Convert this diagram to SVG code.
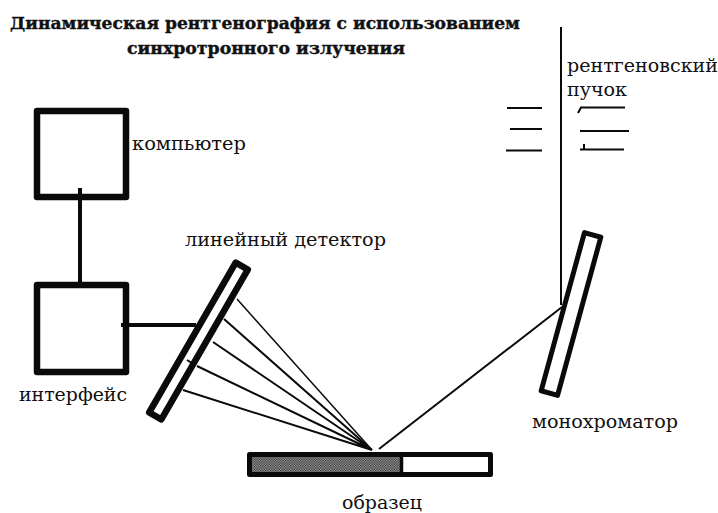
<svg xmlns="http://www.w3.org/2000/svg" width="718" height="513" viewBox="0 0 718 513">
<defs>
<pattern id="dots" width="2.500" height="2.500" patternUnits="userSpaceOnUse"><rect width="2.500" height="2.500" fill="#a8a8a8"/><rect width="1.250" height="1.250" fill="#2a2a2a"/><rect x="1.250" y="1.250" width="1.250" height="1.250" fill="#2a2a2a"/></pattern>
</defs>
<style>
text{font-family:"DejaVu Serif","Liberation Serif",serif;fill:#111;font-size:18px}
.t{font-weight:bold;font-size:17.500px;font-family:"DejaVu Serif",serif;stroke:#111;stroke-width:.4}
.box{fill:#fff;stroke:#0a0a0a;stroke-width:6.500;stroke-linejoin:round}
.c{stroke:#0a0a0a;fill:none}
</style>
<rect width="718" height="513" fill="#fff"/>
<text class="t" x="10" y="29" textLength="510" lengthAdjust="spacingAndGlyphs">Динамическая рентгенография с использованием</text>
<text class="t" x="127" y="54" textLength="278" lengthAdjust="spacingAndGlyphs">синхротронного излучения</text>
<g id="computer"><rect class="box" x="37" y="111" width="89" height="86"/><text x="132" y="150" textLength="114" lengthAdjust="spacingAndGlyphs">компьютер</text></g>
<g id="interface"><rect class="box" x="37" y="285" width="89" height="87"/><text x="19" y="401" textLength="108" lengthAdjust="spacingAndGlyphs">интерфейс</text></g>
<g id="detector"><rect x="-7" y="-86.500" width="14" height="173" transform="translate(198.500 341) rotate(30)" fill="#fff" stroke="#0a0a0a" stroke-width="6.500" stroke-linejoin="round"/><text x="185" y="246" textLength="201" lengthAdjust="spacingAndGlyphs">линейный детектор</text></g>
<g id="monochromator"><rect x="-8.500" y="-82" width="17" height="164" transform="translate(571 314) rotate(15.300)" fill="#fff" stroke="#0a0a0a" stroke-width="5" stroke-linejoin="round"/><text x="532" y="428" textLength="146" lengthAdjust="spacingAndGlyphs">монохроматор</text></g>
<g id="sample"><rect x="249.500" y="454.500" width="241" height="20" fill="#fff" stroke="#0a0a0a" stroke-width="5" stroke-linejoin="round"/><rect x="252" y="457" width="148" height="15" fill="url(#dots)"/><path d="M401.500 454V474" stroke="#0a0a0a" stroke-width="3.500"/><text x="342" y="509" textLength="80" lengthAdjust="spacingAndGlyphs">образец</text></g>
<g id="beam"><text x="567" y="72" textLength="151" lengthAdjust="spacingAndGlyphs">рентгеновский</text><text x="567" y="96" textLength="60" lengthAdjust="spacingAndGlyphs">пучок</text></g>
<g id="connectors" class="c">
<path stroke-width="4" d="M80 188V283"/>
<path stroke-width="4" d="M121 325H196"/>
<path stroke-width="2" d="M561 27V305"/>
<path stroke-width="1.500" d="M237 299L372 450"/>
<path stroke-width="2" d="M224 319L372 450M213 342L372 450M197 366L372 450M183 390L372 450M187 360L191 362.500"/>
<path stroke-width="2" d="M379 449L562 307"/>
<path stroke-width="2" d="M507 108H542M510 129H542M506 150.500H542"/>
<path stroke-width="2" d="M578 113L581 107.500H625M580 131H629M580 149.500H624M584 144V150"/>
</g>
</svg>
